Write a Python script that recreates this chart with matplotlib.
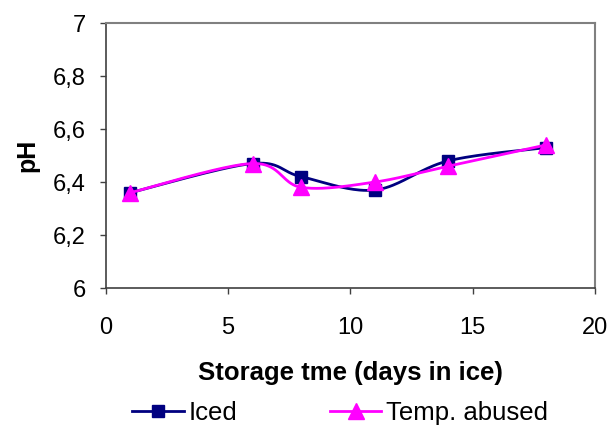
import numpy as np
import matplotlib.pyplot as plt
from matplotlib.ticker import FuncFormatter
from matplotlib.lines import Line2D

plt.rcParams['font.family'] = ['Liberation Sans', 'DejaVu Sans']

days = [1, 6, 8, 11, 14, 18]
iced = [6.36, 6.47, 6.42, 6.37, 6.48, 6.53]
temp_abused = [6.36, 6.47, 6.38, 6.40, 6.46, 6.54]


def smooth(x, y, n=40):
    # Bezier segments with control points from neighbouring points
    x = np.asarray(x, float)
    y = np.asarray(y, float)
    px = np.concatenate([[x[0]], x, [x[-1]]])
    py = np.concatenate([[y[0]], y, [y[-1]]])
    xs, ys = [], []
    t = np.linspace(0, 1, n)
    for i in range(1, len(x)):
        p0 = np.array([px[i], py[i]])
        p3 = np.array([px[i + 1], py[i + 1]])
        c1 = p0 + (p3 - np.array([px[i - 1], py[i - 1]])) / 6
        c2 = p3 - (np.array([px[i + 2], py[i + 2]]) - p0) / 6
        b = ((1 - t) ** 3)[:, None] * p0 + (3 * (1 - t) ** 2 * t)[:, None] * c1 \
            + (3 * (1 - t) * t ** 2)[:, None] * c2 + (t ** 3)[:, None] * p3
        xs.extend(b[:, 0])
        ys.extend(b[:, 1])
    return xs, ys


def comma(v, pos):
    v = round(v, 2)
    return f'{v:g}'.replace('.', ',')


fig = plt.figure(figsize=(6.12, 4.28), dpi=100)
ax = fig.add_axes([0.173, 0.327, 0.799, 0.619])

navy = '#000080'
magenta = '#FF00FF'

sx, sy = smooth(days, iced)
ax.plot(sx, sy, color=navy, lw=2, zorder=2)
ax.plot(days, iced, ls='none', marker='s', ms=9, color=navy, zorder=3)

sx, sy = smooth(days, temp_abused)
ax.plot(sx, sy, color=magenta, lw=2, zorder=4)
ax.plot(days, temp_abused, ls='none', marker='^', ms=11, color=magenta, zorder=5)

ax.set_xlim(0, 20)
ax.set_ylim(6, 7)
ax.set_xticks([0, 5, 10, 15, 20])
ax.set_yticks(np.arange(6, 7.01, 0.2))
ax.yaxis.set_major_formatter(FuncFormatter(comma))

for s in ['top', 'right']:
    ax.spines[s].set_color('#808080')
    ax.spines[s].set_linewidth(1.5)
for s in ['left', 'bottom']:
    ax.spines[s].set_color('#404040')
    ax.spines[s].set_linewidth(1.2)
ax.tick_params(direction='out', length=4.5, width=1, color='#404040', labelsize=17)
ax.tick_params(axis='x', pad=16)
ax.tick_params(axis='y', pad=10)

ax.set_xlabel('Storage tme (days in ice)', fontsize=18.5, fontweight='bold', labelpad=16)
ax.set_ylabel('pH', fontsize=18, fontweight='bold', labelpad=10)

handles = [
    Line2D([], [], color=navy, lw=2, marker='s', ms=9),
    Line2D([], [], color=magenta, lw=2, marker='^', ms=11),
]
fig.legend(handles, ['Iced', 'Temp. abused'], loc='center', bbox_to_anchor=(0.556, 0.034),
           ncol=2, frameon=False, fontsize=18.5, handlelength=2.0, columnspacing=3.6,
           handletextpad=0.2, numpoints=1, borderpad=0)

fig.savefig('out.png', dpi=100)
